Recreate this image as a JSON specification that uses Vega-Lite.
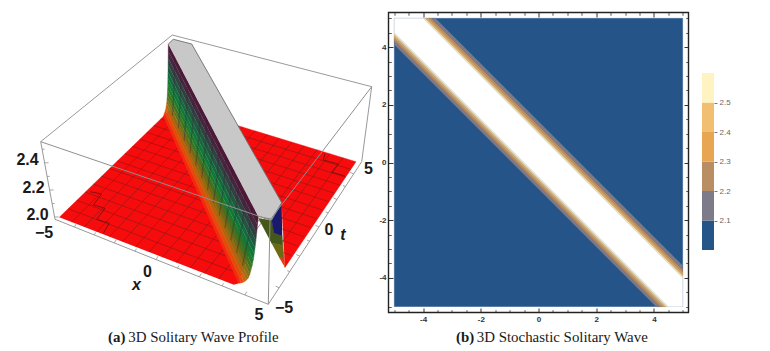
{
"$schema":"https://vega.github.io/schema/vega-lite/v6.json",
"background":"white","padding":0,"spacing":13.5,"bounds":"flush",
"config":{"view":{"stroke":null}},
"resolve":{"scale":{"fill":"independent","stroke":"independent"}},
"datasets":{
"boxBack":[
{"e":"ab","h":172.3,"v":35},{"e":"ab","h":371.7,"v":86.7},
{"e":"ac","h":172.3,"v":35},{"e":"ac","h":40.7,"v":141.7},
{"e":"ce","h":40.7,"v":141.7},{"e":"ce","h":55,"v":219.3},
{"e":"bg","h":371.7,"v":86.7},{"e":"bg","h":361.7,"v":161.7},
{"e":"ef","h":55,"v":219.3},{"e":"ef","h":268.3,"v":304.3},
{"e":"fg","h":268.3,"v":304.3},{"e":"fg","h":361.7,"v":161.7}],
"boxFront":[
{"e":"cd","h":40.7,"v":141.7},{"e":"cd","h":270,"v":220},
{"e":"bd","h":371.7,"v":86.7},{"e":"bd","h":270,"v":220},
{"e":"df","h":270,"v":220},{"e":"df","h":268.3,"v":304.3}],
"plateauEdge":[
{"e":"a","h":168.3,"v":44},{"e":"a","h":173.3,"v":39.3},{"e":"a","h":191.7,"v":44},{"e":"a","h":281.7,"v":202.7},{"e":"a","h":271.7,"v":219.3},{"e":"a","h":258.3,"v":216.5}],
"plane":[
{"p":"L","f":"red","h":59.3,"v":217.3},{"p":"L","f":"red","h":170,"v":110},{"p":"L","f":"red","h":250,"v":250},{"p":"L","f":"red","h":238,"v":283.5},{"p":"L","f":"red","h":233.3,"v":284.6},
{"p":"R","f":"red","h":231,"v":123.5},{"p":"R","f":"red","h":356,"v":161.7},{"p":"R","f":"red","h":285,"v":267.5},{"p":"R","f":"red","h":281.7,"v":205}],
"mesh":[
{"m":"a1","h":71.6,"v":222.1},{"m":"a1","h":185.2,"v":109.4},
{"m":"a2","h":84.1,"v":226.9},{"m":"a2","h":196.5,"v":112.9},
{"m":"a3","h":96.7,"v":231.8},{"m":"a3","h":207.9,"v":116.4},
{"m":"a4","h":109.5,"v":236.7},{"m":"a4","h":219.4,"v":119.9},
{"m":"a5","h":122.5,"v":241.7},{"m":"a5","h":231.1,"v":123.5},
{"m":"a6","h":135.7,"v":246.8},{"m":"a6","h":242.9,"v":127.1},
{"m":"a7","h":149,"v":252},{"m":"a7","h":254.9,"v":130.8},
{"m":"a8","h":162.6,"v":257.2},{"m":"a8","h":267,"v":134.5},
{"m":"a9","h":176.3,"v":262.5},{"m":"a9","h":279.3,"v":138.2},
{"m":"a10","h":190.2,"v":267.9},{"m":"a10","h":291.7,"v":142.1},
{"m":"a11","h":204.4,"v":273.4},{"m":"a11","h":304.2,"v":145.9},
{"m":"a12","h":218.7,"v":278.9},{"m":"a12","h":317,"v":149.8},
{"m":"a13","h":269.3,"v":235.8},{"m":"a13","h":329.8,"v":153.7},
{"m":"a14","h":276.6,"v":250.2},{"m":"a14","h":342.9,"v":157.7},
{"m":"b1","h":68.2,"v":208.7},{"m":"b1","h":235,"v":272.1},
{"m":"b2","h":76.8,"v":200.3},{"m":"b2","h":229.6,"v":257.4},
{"m":"b3","h":85.3,"v":192.1},{"m":"b3","h":222.4,"v":242.5},
{"m":"b4","h":93.5,"v":184.1},{"m":"b4","h":215.9,"v":228.3},
{"m":"b4r","h":276.6,"v":250.2},{"m":"b4r","h":291.1,"v":255.4},
{"m":"b5","h":101.6,"v":176.2},{"m":"b5","h":210,"v":214.7},
{"m":"b5r","h":269.3,"v":235.8},{"m":"b5r","h":297.7,"v":246},
{"m":"b6","h":109.6,"v":168.5},{"m":"b6","h":304.2,"v":236.7},
{"m":"b7","h":117.3,"v":161},{"m":"b7","h":310.5,"v":227.6},
{"m":"b8","h":124.9,"v":153.6},{"m":"b8","h":316.6,"v":218.7},
{"m":"b9","h":132.4,"v":146.4},{"m":"b9","h":322.6,"v":210},
{"m":"b10","h":139.7,"v":139.3},{"m":"b10","h":328.5,"v":201.5},
{"m":"b11","h":146.8,"v":132.4},{"m":"b11","h":334.3,"v":193.2},
{"m":"b12","h":153.8,"v":125.6},{"m":"b12","h":339.9,"v":185.1},
{"m":"b13","h":160.7,"v":118.9},{"m":"b13","h":345.4,"v":177.1},
{"m":"b14","h":167.4,"v":112.4},{"m":"b14","h":350.8,"v":169.4}],
"contourLine":[
{"c":"l","h":90,"v":191.7},{"c":"l","h":101.7,"v":194},{"c":"l","h":93.3,"v":205},{"c":"l","h":105,"v":208.3},{"c":"l","h":96.7,"v":219.3},{"c":"l","h":109.3,"v":223.3},{"c":"l","h":103.3,"v":233.3},
{"c":"r","h":325,"v":153.3},{"c":"r","h":323.3,"v":160},{"c":"r","h":338.3,"v":164},{"c":"r","h":331.7,"v":172.3},{"c":"r","h":345,"v":176}],
"ridge":[
{"f":"s00","h":163.3,"v":116.7},{"f":"s00","h":164.4,"v":113.3},{"f":"s00","h":241,"v":283},{"f":"s00","h":238.3,"v":283.3},
{"f":"s01","h":164.4,"v":113.3},{"f":"s01","h":165.5,"v":110},{"f":"s01","h":244,"v":282},{"f":"s01","h":241,"v":283},
{"f":"s02","h":165.5,"v":110},{"f":"s02","h":166.1,"v":106.7},{"f":"s02","h":246.3,"v":280.3},{"f":"s02","h":244,"v":282},
{"f":"s03","h":166.1,"v":106.7},{"f":"s03","h":166.7,"v":103.3},{"f":"s03","h":248.3,"v":278},{"f":"s03","h":246.3,"v":280.3},
{"f":"s04","h":166.7,"v":103.3},{"f":"s04","h":167,"v":99.2},{"f":"s04","h":249.8,"v":274.3},{"f":"s04","h":248.3,"v":278},
{"f":"s05","h":167,"v":99.2},{"f":"s05","h":167.3,"v":95},{"f":"s05","h":251,"v":270},{"f":"s05","h":249.8,"v":274.3},
{"f":"s06","h":167.3,"v":95},{"f":"s06","h":167.6,"v":89.5},{"f":"s06","h":252.2,"v":265.2},{"f":"s06","h":251,"v":270},
{"f":"s07","h":167.6,"v":89.5},{"f":"s07","h":167.8,"v":84},{"f":"s07","h":253.3,"v":260},{"f":"s07","h":252.2,"v":265.2},
{"f":"s08","h":167.8,"v":84},{"f":"s08","h":167.9,"v":78},{"f":"s08","h":254.2,"v":254},{"f":"s08","h":253.3,"v":260},
{"f":"s09","h":167.9,"v":78},{"f":"s09","h":168,"v":72},{"f":"s09","h":255,"v":248},{"f":"s09","h":254.2,"v":254},
{"f":"s10","h":168,"v":72},{"f":"s10","h":168.1,"v":65},{"f":"s10","h":255.9,"v":240.6},{"f":"s10","h":255,"v":248},
{"f":"s11","h":168.1,"v":65},{"f":"s11","h":168.2,"v":58},{"f":"s11","h":256.7,"v":233},{"f":"s11","h":255.9,"v":240.6},
{"f":"s12","h":168.2,"v":58},{"f":"s12","h":168.25,"v":51},{"f":"s12","h":257.5,"v":224.9},{"f":"s12","h":256.7,"v":233},
{"f":"s13","h":168.25,"v":51},{"f":"s13","h":168.3,"v":44},{"f":"s13","h":258.3,"v":216.5},{"f":"s13","h":257.5,"v":224.9}],
"ridgeMesh":[
{"m":"1","h":172.5,"v":115.8},{"m":"1","h":174.2,"v":84.6},{"m":"1","h":174.7,"v":56.3},
{"m":"2","h":178.4,"v":128.3},{"m":"2","h":180.4,"v":97.1},{"m":"2","h":181.2,"v":68.6},
{"m":"3","h":184.2,"v":140.7},{"m":"3","h":186.6,"v":109.7},{"m":"3","h":187.6,"v":80.9},
{"m":"4","h":190,"v":153.2},{"m":"4","h":192.9,"v":122.3},{"m":"4","h":194,"v":93.1},
{"m":"5","h":195.8,"v":165.7},{"m":"5","h":199.1,"v":134.8},{"m":"5","h":200.4,"v":105.4},
{"m":"6","h":201.7,"v":178.2},{"m":"6","h":205.3,"v":147.4},{"m":"6","h":206.9,"v":117.7},
{"m":"7","h":207.5,"v":190.7},{"m":"7","h":211.5,"v":160},{"m":"7","h":213.3,"v":130},
{"m":"8","h":213.3,"v":203.1},{"m":"8","h":217.7,"v":172.6},{"m":"8","h":219.7,"v":142.3},
{"m":"9","h":219.2,"v":215.6},{"m":"9","h":223.9,"v":185.2},{"m":"9","h":226.2,"v":154.6},
{"m":"10","h":225,"v":228.1},{"m":"10","h":230.1,"v":197.7},{"m":"10","h":232.6,"v":166.9},
{"m":"11","h":230.8,"v":240.6},{"m":"11","h":236.4,"v":210.3},{"m":"11","h":239,"v":179.1},
{"m":"12","h":236.6,"v":253},{"m":"12","h":242.6,"v":222.9},{"m":"12","h":245.4,"v":191.4},
{"m":"13","h":242.5,"v":265.5},{"m":"13","h":248.8,"v":235.4},{"m":"13","h":251.9,"v":203.7}],
"top":[
{"f":"w3","h":279.3,"v":257.7},{"f":"w3","h":284,"v":258},{"f":"w3","h":285,"v":267.5},
{"f":"w2","h":271.4,"v":242.9},{"f":"w2","h":282.8,"v":245},{"f":"w2","h":284,"v":258},{"f":"w2","h":279.3,"v":257.7},
{"f":"w1","h":258.3,"v":218.3},{"f":"w1","h":271.7,"v":220.5},{"f":"w1","h":274,"v":233},{"f":"w1","h":282.2,"v":236},{"f":"w1","h":282.8,"v":245},{"f":"w1","h":271.4,"v":242.9},
{"f":"navy","h":281.7,"v":203.5},{"f":"navy","h":271.7,"v":220.5},{"f":"navy","h":274,"v":233},{"f":"navy","h":282.2,"v":236},
{"f":"gray","h":168.3,"v":44},{"f":"gray","h":173.3,"v":39.3},{"f":"gray","h":191.7,"v":44},{"f":"gray","h":281.7,"v":202.7},{"f":"gray","h":271.7,"v":219.3},{"f":"gray","h":258.3,"v":216.5}],
"boxTicks":[
{"k":"x1","h":74.4,"v":227},{"k":"x1","h":76.4,"v":223.6},{"k":"x2","h":94.2,"v":234.9},{"k":"x2","h":95.7,"v":232.4},{"k":"x3","h":114.3,"v":242.9},{"k":"x3","h":116.3,"v":239.5},{"k":"x4","h":135,"v":251.2},{"k":"x4","h":136.5,"v":248.7},{"k":"x5","h":156.1,"v":259.6},{"k":"x5","h":158.1,"v":256.2},{"k":"x6","h":177.4,"v":268.1},{"k":"x6","h":178.9,"v":265.6},{"k":"x7","h":199.4,"v":276.8},{"k":"x7","h":201.4,"v":273.4},{"k":"x8","h":222,"v":285.9},{"k":"x8","h":223.5,"v":283.4},{"k":"x9","h":244.8,"v":295},{"k":"x9","h":246.8,"v":291.6},
{"k":"t1","h":279.2,"v":287.7},{"k":"t1","h":275.7,"v":286.2},{"k":"t2","h":289.7,"v":271.6},{"k":"t2","h":287.2,"v":270.6},{"k":"t3","h":299.8,"v":256.1},{"k":"t3","h":296.3,"v":254.6},{"k":"t4","h":309.6,"v":241.2},{"k":"t4","h":307.1,"v":240.2},{"k":"t5","h":319,"v":226.9},{"k":"t5","h":315.5,"v":225.4},{"k":"t6","h":328.1,"v":212.9},{"k":"t6","h":325.6,"v":211.9},{"k":"t7","h":337,"v":199.5},{"k":"t7","h":333.5,"v":198},{"k":"t8","h":345.5,"v":186.5},{"k":"t8","h":343,"v":185.5},{"k":"t9","h":353.7,"v":173.9},{"k":"t9","h":350.2,"v":172.4},
{"k":"u0","h":54.6,"v":217},{"k":"u0","h":58.6,"v":217},{"k":"u1","h":52.1,"v":203.5},{"k":"u1","h":54.6,"v":203.5},{"k":"u2","h":49.6,"v":190},{"k":"u2","h":53.6,"v":190},{"k":"u3","h":47.1,"v":176.4},{"k":"u3","h":49.6,"v":176.4},{"k":"u4","h":44.6,"v":162.8},{"k":"u4","h":48.6,"v":162.8},{"k":"u5","h":42.1,"v":149.2},{"k":"u5","h":44.6,"v":149.2}],
"labels3d":[
{"label":"2.4","h":27.5,"v":160},{"label":"2.2","h":33.5,"v":187.5},{"label":"2.0","h":37.5,"v":215},{"label":"−5","h":44,"v":233},{"label":"0","h":147.5,"v":272},{"label":"5","h":259,"v":315},{"label":"−5","h":284,"v":307.5},{"label":"0","h":329,"v":230},{"label":"5","h":368.5,"v":169}],
"axisNames":[{"label":"x","h":136.5,"v":285},{"label":"t","h":343,"v":235}],
"bands":[
{"p":"bg","f":"c0","x":-5,"t":-5},{"p":"bg","f":"c0","x":-5,"t":5},{"p":"bg","f":"c0","x":5,"t":5},{"p":"bg","f":"c0","x":5,"t":-5}],
"lowerBands":[
{"p":"l1","f":"c1","x":-5,"t":4.08},{"p":"l1","f":"c1","x":-5,"t":4.22},{"p":"l1","f":"c1","x":4.22,"t":-5},{"p":"l1","f":"c1","x":4.08,"t":-5},
{"p":"l2","f":"c2","x":-5,"t":4.22},{"p":"l2","f":"c2","x":-5,"t":4.31},{"p":"l2","f":"c2","x":4.31,"t":-5},{"p":"l2","f":"c2","x":4.22,"t":-5},
{"p":"l3","f":"c3","x":-5,"t":4.31},{"p":"l3","f":"c3","x":-5,"t":4.38},{"p":"l3","f":"c3","x":4.38,"t":-5},{"p":"l3","f":"c3","x":4.31,"t":-5},
{"p":"l4","f":"c4","x":-5,"t":4.38},{"p":"l4","f":"c4","x":-5,"t":4.44},{"p":"l4","f":"c4","x":4.44,"t":-5},{"p":"l4","f":"c4","x":4.38,"t":-5},
{"p":"l5","f":"c5","x":-5,"t":4.44},{"p":"l5","f":"c5","x":-5,"t":4.5},{"p":"l5","f":"c5","x":4.5,"t":-5},{"p":"l5","f":"c5","x":4.44,"t":-5}],
"upperBands":[
{"p":"u5","f":"c5","x":-4,"t":5},{"p":"u5","f":"c5","x":-3.94,"t":5},{"p":"u5","f":"c5","x":5,"t":-3.94},{"p":"u5","f":"c5","x":5,"t":-4},
{"p":"u4","f":"c4","x":-3.94,"t":5},{"p":"u4","f":"c4","x":-3.88,"t":5},{"p":"u4","f":"c4","x":5,"t":-3.88},{"p":"u4","f":"c4","x":5,"t":-3.94},
{"p":"u3","f":"c3","x":-3.88,"t":5},{"p":"u3","f":"c3","x":-3.81,"t":5},{"p":"u3","f":"c3","x":5,"t":-3.81},{"p":"u3","f":"c3","x":5,"t":-3.88},
{"p":"u2","f":"c2","x":-3.81,"t":5},{"p":"u2","f":"c2","x":-3.72,"t":5},{"p":"u2","f":"c2","x":5,"t":-3.72},{"p":"u2","f":"c2","x":5,"t":-3.81},
{"p":"u1","f":"c1","x":-3.72,"t":5},{"p":"u1","f":"c1","x":-3.58,"t":5},{"p":"u1","f":"c1","x":5,"t":-3.58},{"p":"u1","f":"c1","x":5,"t":-3.72}],
"core":[
{"p":"w","f":"c6","x":-5,"t":4.5},{"p":"w","f":"c6","x":-5,"t":5},{"p":"w","f":"c6","x":-4,"t":5},{"p":"w","f":"c6","x":5,"t":-4},{"p":"w","f":"c6","x":5,"t":-5},{"p":"w","f":"c6","x":4.5,"t":-5}],
"scaleBar":[
{"lo":2.0,"hi":2.1,"f":"c0"},{"lo":2.1,"hi":2.2,"f":"c1"},{"lo":2.2,"hi":2.3,"f":"c2"},{"lo":2.3,"hi":2.4,"f":"c3"},{"lo":2.4,"hi":2.5,"f":"c4"},{"lo":2.5,"hi":2.6,"f":"c5"}]
},
"hconcat":[
{"width":375,"height":351,
"encoding":{
"x":{"field":"h","type":"quantitative","scale":{"domain":[0,375],"nice":false,"zero":false},"axis":null},
"y":{"field":"v","type":"quantitative","scale":{"domain":[351,0],"nice":false,"zero":false},"axis":null}},
"layer":[
{"data":{"name":"boxBack"},"mark":{"type":"line","stroke":"#999999","strokeWidth":1},"encoding":{"detail":{"field":"e"},"order":{"value":null}}},
{"data":{"name":"plane"},"mark":{"type":"line","strokeWidth":0.4},"encoding":{"detail":{"field":"p"},"order":{"value":null},
"fill":{"field":"f","legend":null,"scale":{"domain":["red","s00","s01","s02","s03","s04","s05","s06","s07","s08","s09","s10","s11","s12","s13","gray","navy","w1","w2","w3"],"range":["#F60C0C","#F42A10","#E84A0E","#D0600E","#A86C10","#8A7014","#667018","#3F7420","#1F7A2C","#107838","#156A3C","#22573F","#2F4240","#44283E","#4E1A38","#C8C8C8","#1A1A6A","#45581A","#6E6A14","#E0400F"]}},
"stroke":{"field":"f","legend":null,"scale":{"domain":["red","s00","s01","s02","s03","s04","s05","s06","s07","s08","s09","s10","s11","s12","s13","gray","navy","w1","w2","w3"],"range":["#F60C0C","#F42A10","#E84A0E","#D0600E","#A86C10","#8A7014","#667018","#3F7420","#1F7A2C","#107838","#156A3C","#22573F","#2F4240","#44283E","#4E1A38","#C8C8C8","#1A1A6A","#45581A","#6E6A14","#E0400F"]}}}},
{"data":{"name":"mesh"},"mark":{"type":"line","stroke":"#7E1A1A","strokeWidth":0.55},"encoding":{"detail":{"field":"m"},"order":{"value":null}}},
{"data":{"name":"contourLine"},"mark":{"type":"line","stroke":"#5A1010","strokeWidth":0.7},"encoding":{"detail":{"field":"c"},"order":{"value":null}}},
{"data":{"name":"ridge"},"mark":{"type":"line","strokeWidth":0.4},"encoding":{"order":{"value":null},"fill":{"field":"f","legend":null},"stroke":{"field":"f","legend":null}}},
{"data":{"name":"ridgeMesh"},"mark":{"type":"line","stroke":"#3A0F3A","strokeWidth":1.3,"opacity":0.3},"encoding":{"detail":{"field":"m"},"order":{"value":null}}},
{"data":{"name":"top"},"mark":{"type":"line","strokeWidth":0.4},"encoding":{"order":{"value":null},"fill":{"field":"f","legend":null},"stroke":{"field":"f","legend":null}}},
{"data":{"name":"plateauEdge"},"mark":{"type":"line","stroke":"#555555","strokeWidth":0.7},"encoding":{"detail":{"field":"e"},"order":{"value":null}}},
{"data":{"name":"boxFront"},"mark":{"type":"line","stroke":"#8F8F8F","strokeWidth":1},"encoding":{"detail":{"field":"e"},"order":{"value":null}}},
{"data":{"name":"boxTicks"},"mark":{"type":"line","stroke":"#8F8F8F","strokeWidth":0.8},"encoding":{"detail":{"field":"k"},"order":{"value":null}}},
{"data":{"name":"labels3d"},"mark":{"type":"text","font":"Liberation Sans","fontWeight":"bold","fontSize":16,"color":"#1a1a1a","align":"center","baseline":"middle"},"encoding":{"text":{"field":"label"}}},
{"data":{"name":"axisNames"},"mark":{"type":"text","font":"Liberation Sans","fontWeight":"bold","fontStyle":"italic","fontSize":16,"color":"#1a1a1a","align":"center","baseline":"middle"},"encoding":{"text":{"field":"label"}}},
{"data":{"values":[{"label":"(a)","h":108,"v":338}]},"mark":{"type":"text","font":"Liberation Serif","fontWeight":"bold","fontSize":14.9,"color":"#1a1a1a","align":"left","baseline":"middle"},"encoding":{"text":{"field":"label"}}},
{"data":{"values":[{"label":"3D Solitary Wave Profile","h":128.3,"v":338}]},"mark":{"type":"text","font":"Liberation Serif","fontSize":14.9,"color":"#1a1a1a","align":"left","baseline":"middle"},"encoding":{"text":{"field":"label"}}}
]},
{"width":300,"height":351,
"resolve":{"axis":{"x":"independent","y":"independent"}},
"encoding":{
"x":{"field":"x","type":"quantitative","scale":{"domain":[-5.2,5.2],"nice":false,"zero":false}},
"y":{"field":"t","type":"quantitative","scale":{"domain":[-5.2,5.2],"range":[312.5,12.5],"nice":false,"zero":false}}},
"layer":[
{"data":{"name":"bands"},"mark":{"type":"line","strokeWidth":0.3},
"encoding":{
"detail":{"field":"p"},"order":{"value":null},
"fill":{"field":"f","legend":null,"scale":{"domain":["c0","c1","c2","c3","c4","c5","c6"],"range":["#255489","#7D7A8A","#B88E62","#E8A652","#F2BE72","#FFF3C2","#FFFFFF"]}},
"stroke":{"field":"f","legend":null,"scale":{"domain":["c0","c1","c2","c3","c4","c5","c6"],"range":["#255489","#7D7A8A","#B88E62","#E8A652","#F2BE72","#FFF3C2","#FFFFFF"]}},
"x":{"field":"x","type":"quantitative","axis":{"orient":"bottom","offset":-38.5,"values":[-4,-2,0,2,4],"labelExpr":"datum.value","domain":false,"grid":false,"title":null,"tickSize":-4.5,"tickColor":"#333333","tickWidth":1,"labelFont":"Liberation Sans","labelFontSize":8,"labelFontWeight":"bold","labelColor":"#333333","labelPadding":7.5}},
"y":{"field":"t","type":"quantitative","axis":{"orient":"left","values":[-4,-2,0,2,4],"labelExpr":"datum.value","domain":false,"grid":false,"title":null,"tickSize":-4.5,"tickColor":"#333333","tickWidth":1,"labelFont":"Liberation Sans","labelFontSize":8,"labelFontWeight":"bold","labelColor":"#333333","labelPadding":7}}}},
{"data":{"name":"lowerBands"},"mark":{"type":"line","strokeWidth":0.3},
"encoding":{
"detail":{"field":"p"},"order":{"value":null},"fill":{"field":"f","legend":null},"stroke":{"field":"f","legend":null},
"x":{"field":"x","type":"quantitative","axis":{"orient":"bottom","offset":-38.5,"values":[-5,-4.5,-3.5,-3,-2.5,-1.5,-1,-0.5,0.5,1,1.5,2.5,3,3.5,4.5,5],"labels":false,"domain":false,"grid":false,"title":null,"tickSize":-2.8,"tickColor":"#333333","tickWidth":0.8}},
"y":{"field":"t","type":"quantitative","axis":{"orient":"left","values":[-5,-4.5,-3.5,-3,-2.5,-1.5,-1,-0.5,0.5,1,1.5,2.5,3,3.5,4.5,5],"labels":false,"domain":false,"grid":false,"title":null,"tickSize":-2.8,"tickColor":"#333333","tickWidth":0.8}}}},
{"data":{"name":"upperBands"},"mark":{"type":"line","strokeWidth":0.3},
"encoding":{
"detail":{"field":"p"},"order":{"value":null},"fill":{"field":"f","legend":null},"stroke":{"field":"f","legend":null},
"x":{"field":"x","type":"quantitative","axis":{"orient":"top","offset":-12.5,"values":[-4,-2,0,2,4],"labels":false,"domain":false,"grid":false,"title":null,"tickSize":-4.5,"tickColor":"#333333","tickWidth":1}},
"y":{"field":"t","type":"quantitative","axis":{"orient":"right","values":[-4,-2,0,2,4],"labels":false,"domain":false,"grid":false,"title":null,"tickSize":-4.5,"tickColor":"#333333","tickWidth":1}}}},
{"data":{"name":"core"},"mark":{"type":"line","strokeWidth":0.3},
"encoding":{
"detail":{"field":"p"},"order":{"value":null},"fill":{"field":"f","legend":null},"stroke":{"field":"f","legend":null},
"x":{"field":"x","type":"quantitative","axis":{"orient":"top","offset":-12.5,"values":[-5,-4.5,-3.5,-3,-2.5,-1.5,-1,-0.5,0.5,1,1.5,2.5,3,3.5,4.5,5],"labels":false,"domain":false,"grid":false,"title":null,"tickSize":-2.8,"tickColor":"#333333","tickWidth":0.8}},
"y":{"field":"t","type":"quantitative","axis":{"orient":"right","values":[-5,-4.5,-3.5,-3,-2.5,-1.5,-1,-0.5,0.5,1,1.5,2.5,3,3.5,4.5,5],"labels":false,"domain":false,"grid":false,"title":null,"tickSize":-2.8,"tickColor":"#333333","tickWidth":0.8}}}},
{"data":{"values":[{"x":-5.2,"x2":5.2,"t":-5.2,"t2":5.2}]},"mark":{"type":"rect","filled":false,"stroke":"#222222","strokeWidth":1.4},
"encoding":{"x":{"field":"x","type":"quantitative","axis":null},"x2":{"field":"x2"},"y":{"field":"t","type":"quantitative","axis":null},"y2":{"field":"t2"}}},
{"data":{"values":[{"label":"(b)","x":-2.86,"t":-6.07}]},"mark":{"type":"text","font":"Liberation Serif","fontWeight":"bold","fontSize":14.9,"color":"#1a1a1a","align":"left","baseline":"middle"},
"encoding":{"x":{"field":"x","type":"quantitative","axis":null},"y":{"field":"t","type":"quantitative","axis":null},"text":{"field":"label"}}},
{"data":{"values":[{"label":"3D Stochastic Solitary Wave","x":-2.14,"t":-6.07}]},"mark":{"type":"text","font":"Liberation Serif","fontSize":14.9,"color":"#1a1a1a","align":"left","baseline":"middle"},
"encoding":{"x":{"field":"x","type":"quantitative","axis":null},"y":{"field":"t","type":"quantitative","axis":null},"text":{"field":"label"}}}
]},
{"width":12,"height":351,
"data":{"name":"scaleBar"},
"mark":{"type":"rect"},
"encoding":{
"x":{"datum":0,"scale":{"domain":[0,1],"nice":false,"zero":false},"axis":null},
"x2":{"datum":1},
"y":{"field":"lo","type":"quantitative","scale":{"domain":[2.0,2.6],"range":[250,73],"nice":false,"zero":false},
"axis":{"orient":"right","values":[2.1,2.2,2.3,2.4,2.5],"format":".1f","domain":false,"grid":false,"title":null,"tickSize":3,"tickColor":"#777777","labelFont":"Liberation Sans","labelFontSize":8,"labelColor":"#666666","labelPadding":2}},
"y2":{"field":"hi"},
"fill":{"field":"f","legend":null,"scale":{"domain":["c0","c1","c2","c3","c4","c5"],"range":["#255489","#7D7A8A","#B88E62","#E8A652","#F2BE72","#FFF3C2"]}}}}
]}
